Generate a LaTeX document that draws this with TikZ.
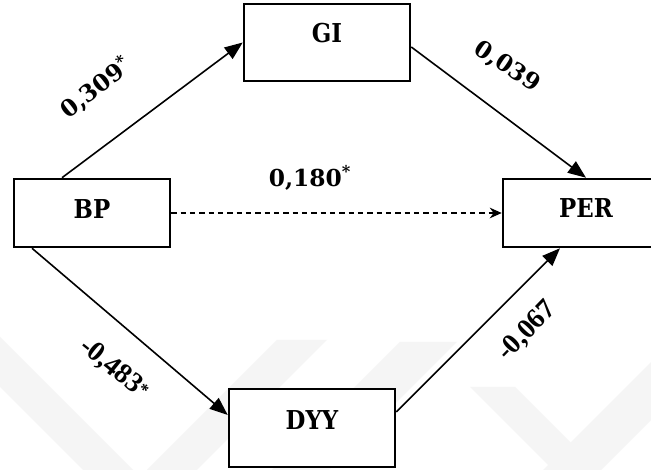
\documentclass[tikz,border=0pt]{standalone}
\usepackage{fontspec}
\setmainfont{DejaVu Serif}
\newfontfamily\boxfont{DejaVu Serif}[FakeStretch=0.88]
\newfontfamily\lblfont{DejaVu Serif}
\newfontfamily\tmsfont{Liberation Serif}
\usetikzlibrary{arrows.meta,calc}
\begin{document}
\begin{tikzpicture}[x=0.75pt,y=-0.75pt,
  box/.style={draw=black,line width=1.9pt,fill=white,inner sep=0pt,
    font=\boxfont\bfseries\fontsize{19.5}{20}\selectfont,text height=14.25pt},
  arr/.style={line width=1.2pt,-{Triangle[length=13.5pt,width=10.5pt]}},
  darr/.style={line width=1.1pt,dash pattern=on 4pt off 3pt,-{Stealth[length=9pt,width=8pt]}},
  lbl/.style={font=\lblfont\bfseries\fontsize{17.5}{18}\selectfont,inner sep=0pt},
  tlbl/.style={font=\tmsfont\bfseries\fontsize{21}{22}\selectfont,inner sep=0pt},
  wm/.style={fill=black!4,draw=none}]
\useasboundingbox (0,0) rectangle (651,470);
\clip (0,0) rectangle (651,470);
\fill[white] (0,0) rectangle (651,470);
% watermark
\fill[wm] (0,337) -- (0,387) -- (83,470) -- (133,470) -- cycle;
\fill[wm] (277,340) -- (327,340) -- (197,470) -- (147,470) -- cycle;
\fill[wm] (400,342) -- (457,342) -- (329,470) -- (272,470) -- cycle;
\fill[wm] (470,387) -- (515,387) -- (598,470) -- (553,470) -- cycle;
\fill[wm] (651,362) -- (651,420) -- (601,470) -- (543,470) -- cycle;
% boxes
\node[box,minimum width=117pt,minimum height=51pt,text depth=6pt] (bp) at (92,213) {BP};
\node[box,minimum width=124.5pt,minimum height=57.75pt,text depth=14.25pt] (gi) at (327,42.5) {GI};
\node[box,minimum width=124.5pt,minimum height=51pt,text depth=7.5pt] (per) at (586,213) {PER};
\node[box,minimum width=124.5pt,minimum height=58.5pt,text depth=12pt] (dyy) at (312,428) {DYY};
% connectors
\draw[arr] ($(bp.north)+(-30,0)$) -- (gi.west);
\draw[arr] ($(gi.east)+(0,4.5)$) -- (per.north);
\draw[darr] (bp.east) -- (per.west);
\draw[arr] ($(bp.south)+(-60,0)$) -- ($(dyy.west)+(0,-13)$);
\draw[arr] ($(dyy.east)+(0,-16)$) -- ($(per.south)+(-26,0)$);
% labels
\node[lbl,rotate=38] (l1) at (96,88) {0,309\textsuperscript{*}};
\node[lbl,rotate=-34] (l2) at (507,67) {0,039};
\node[lbl] (l3) at (310,178) {0,180\textsuperscript{*}};
\node[tlbl,rotate=-39] (l4) at (114,369) {-0,483\raisebox{.12em}{\fontsize{13}{13}\selectfont *}};
\node[tlbl,rotate=46] (l5) at (527,331) {-0,067};
\end{tikzpicture}
\end{document}
